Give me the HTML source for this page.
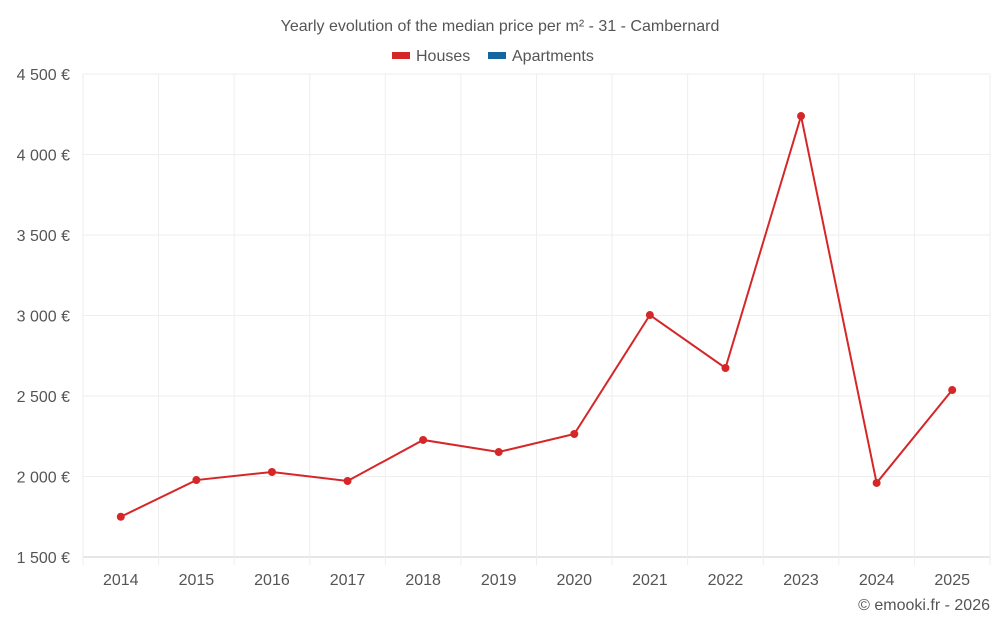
<!DOCTYPE html>
<html><head><meta charset="utf-8">
<style>
body{margin:0;background:#fff;font-family:"Liberation Sans",sans-serif;}
svg text{font-family:"Liberation Sans",sans-serif;}
</style></head>
<body>
<svg id="chart" width="1000" height="625">
<text x="500" y="31" text-anchor="middle" font-size="16" fill="#555">Yearly evolution of the median price per m² - 31 - Cambernard</text>
<g>
<g><rect x="392" y="52" width="18" height="7" fill="#d62728"/><text x="416" y="61" font-size="16" fill="#555">Houses</text></g>
<g><rect x="488" y="52" width="18" height="7" fill="#1565a0"/><text x="512" y="61" font-size="16" fill="#555">Apartments</text></g>
</g>
<g id="grid"></g><g id="axes"></g><g id="series"></g>
<text x="990" y="610" text-anchor="end" font-size="16" fill="#555">© emooki.fr - 2026</text>
</svg>
<script>
const years=["2014","2015","2016","2017","2018","2019","2020","2021","2022","2023","2024","2025"];
const houses=[1750,1978,2028,1972,2227,2152,2264,3003,2674,4239,1960,2537];
const yTicks=[1500,2000,2500,3000,3500,4000,4500];
const yTickLabels=["1 500 €","2 000 €","2 500 €","3 000 €","3 500 €","4 000 €","4 500 €"];
const NS="http://www.w3.org/2000/svg";
const L=83,R=990,T=74,B=557,yMin=1500,yMax=4500;
const band=(R-L)/years.length;
const xs=i=>L+band*(i+0.5);
const ys=v=>B-(v-yMin)/(yMax-yMin)*(B-T);
function mk(t,a,p){const e=document.createElementNS(NS,t);for(const k in a)e.setAttribute(k,a[k]);p.appendChild(e);return e;}
const grid=document.getElementById('grid'),axes=document.getElementById('axes'),ser=document.getElementById('series');
yTicks.forEach((v,i)=>{
 const g=mk('line',{x1:L,x2:R,y1:ys(v),y2:ys(v),stroke:i==0?'#ccc':'#eee'},grid);
 
 
 const t=mk('text',{x:70,y:ys(v)+6,'text-anchor':'end','font-size':16,fill:'#555'},axes);
 t.textContent=yTickLabels[i];
 
 
});
for(let i=0;i<=years.length;i++){
 const x=L+band*i;
 const g=mk('line',{x1:x,x2:x,y1:T,y2:B+8,stroke:'#eee'},grid);
 
 
}
years.forEach((y,i)=>{
 const t=mk('text',{x:xs(i),y:585,'text-anchor':'middle','font-size':16,fill:'#555'},axes);
 t.textContent=y;
 
 
});
const line=mk('polyline',{points:houses.map((v,i)=>xs(i)+','+ys(v)).join(' '),fill:'none',stroke:'#d62728','stroke-width':2},ser);


houses.forEach((v,i)=>{
 const c=mk('circle',{cx:xs(i),cy:ys(v),r:4,fill:'#d62728'},ser);
 
 
});
</script>
</body></html>
